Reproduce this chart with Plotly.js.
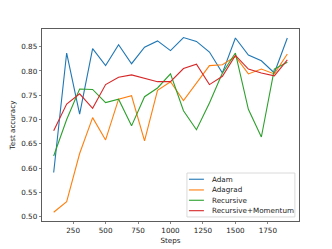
<!DOCTYPE html>
<html>
<head>
<meta charset="utf-8">
<script src="https://cdn.plot.ly/plotly-3.0.1.min.js"></script>
<style>html,body{margin:0;padding:0;background:#fff;}#chart{width:332px;height:249px;}</style>
</head>
<body>
<div id="chart"></div>
<script>
const steps = [100,200,300,400,500,600,700,800,900,1000,1100,1200,1300,1400,1500,1600,1700,1800,1900];
const adam = [0.591,0.837,0.711,0.846,0.811,0.854,0.815,0.849,0.862,0.842,0.869,0.861,0.839,0.796,0.868,0.833,0.821,0.796,0.868];
const adagrad = [0.509,0.531,0.630,0.704,0.658,0.742,0.749,0.656,0.760,0.778,0.739,0.775,0.811,0.813,0.830,0.794,0.804,0.794,0.835];
const recursive = [0.625,0.700,0.763,0.762,0.735,0.742,0.687,0.747,0.765,0.794,0.718,0.679,0.734,0.796,0.837,0.721,0.664,0.804,0.818];
const recursiveMomentum = [0.677,0.732,0.753,0.723,0.772,0.787,0.792,0.785,0.778,0.778,0.805,0.814,0.772,0.789,0.832,0.804,0.796,0.790,0.823];
const seriesNames = ["Adam","Adagrad","Recursive","Recursive+Momentum"];
const seriesColors = ["#1f77b4","#ff7f0e","#2ca02c","#d62728"];
const seriesValues = [adam, adagrad, recursive, recursiveMomentum];
const xTicks = [250,500,750,1000,1250,1500,1750];
const yTicks = [0.50,0.55,0.60,0.65,0.70,0.75,0.80,0.85];

const font = {family: "DejaVu Sans", size: 7.2, color: "#222"};
const traces = seriesValues.map((v, i) => ({
  x: steps, y: v, type: "scatter", mode: "lines", name: seriesNames[i],
  line: {color: seriesColors[i], width: 1.1}, showlegend: false
}));

const shapes = [{type:"rect", xref:"paper", yref:"paper", x0:0.564, x1:0.984, y0:0.021, y1:0.250,
  line:{color:"#d0d0d0", width:0.8}, fillcolor:"rgba(255,255,255,0.85)", layer:"above"}];
const annotations = [];
const rowY = [0.2175, 0.1617, 0.1080, 0.0537];
seriesNames.forEach((n, i) => {
  shapes.push({type:"line", xref:"paper", yref:"paper", x0:0.572, x1:0.630, y0:rowY[i], y1:rowY[i],
    line:{color:seriesColors[i], width:1.1}, layer:"above"});
  annotations.push({xref:"paper", yref:"paper", x:0.654, y:rowY[i], xanchor:"left", yanchor:"middle",
    text:n, showarrow:false, font:font});
});

const layout = {
  width: 332, height: 249,
  margin: {l: 42, r: 33, t: 29, b: 28},
  paper_bgcolor: "#fff", plot_bgcolor: "#fff",
  font: font,
  xaxis: {range: [10, 1990], tickvals: xTicks, ticktext: xTicks.map(String),
    showgrid: false, zeroline: false, showline: true, mirror: true, linecolor: "#333", linewidth: 0.8,
    ticks: "outside", ticklen: 2.5, tickwidth: 0.6, tickcolor: "#333", tickfont: font,
    title: {text: "Steps", font: font, standoff: 3}, automargin: false},
  yaxis: {range: [0.491, 0.8865], tickvals: yTicks, ticktext: yTicks.map(v => v.toFixed(2)),
    showgrid: false, zeroline: false, showline: true, mirror: true, linecolor: "#333", linewidth: 0.8,
    ticks: "outside", ticklen: 2.5, tickwidth: 0.6, tickcolor: "#333", tickfont: font,
    title: {text: "Test accuracy", font: font, standoff: 4}, automargin: false},
  shapes: shapes,
  annotations: annotations
};
Plotly.newPlot("chart", traces, layout, {displayModeBar: false, staticPlot: true});
</script>
</body>
</html>
